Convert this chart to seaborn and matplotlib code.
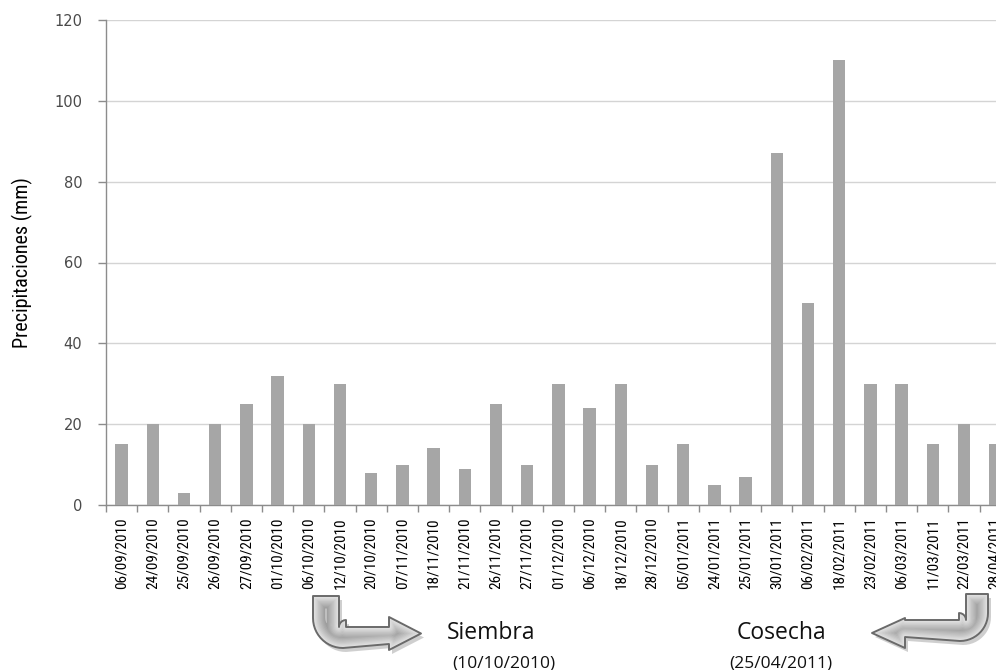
import numpy as np
import pandas as pd
import matplotlib
matplotlib.use("Agg")
import matplotlib.pyplot as plt
import seaborn as sns
from matplotlib.patches import Polygon
from matplotlib import font_manager
from matplotlib.font_manager import FontProperties

# Fechas de lluvia y precipitación registrada (mm)
fechas = ["06/09/2010", "24/09/2010", "25/09/2010", "26/09/2010", "27/09/2010",
          "01/10/2010", "06/10/2010", "12/10/2010", "20/10/2010", "07/11/2010",
          "18/11/2010", "21/11/2010", "26/11/2010", "27/11/2010", "01/12/2010",
          "06/12/2010", "18/12/2010", "28/12/2010", "05/01/2011", "24/01/2011",
          "25/01/2011", "30/01/2011", "06/02/2011", "18/02/2011", "23/02/2011",
          "06/03/2011", "11/03/2011", "22/03/2011", "28/04/2011"]
precipitaciones = [15, 20, 3, 20, 25, 32, 20, 30, 8, 10, 14, 9, 25, 10, 30,
                   24, 30, 10, 15, 5, 7, 87, 50, 110, 30, 30, 15, 20, 15]
yticks = [0, 20, 40, 60, 80, 100, 120]

sns.set_theme(style="white")
plt.rcParams["font.family"] = ["DejaVu Sans"]


def condensed_font():
    """Pick a narrow sans-serif face if one is installed."""
    fl = font_manager.fontManager.ttflist
    prefs = ["Liberation Sans Narrow", "Roboto Condensed", "Open Sans Condensed",
             "Noto Sans Condensed", "DejaVu Sans Condensed"]
    for p in prefs:
        for f in fl:
            if f.name == p and f.weight in (400, "normal", "regular") and f.style == "normal":
                return FontProperties(fname=f.fname)
    for f in fl:
        if f.style == "normal" and str(f.stretch) in ("condensed", "semi-condensed") \
                and f.weight in (400, "normal", "regular"):
            return FontProperties(fname=f.fname)
    for f in fl:
        if ("Condensed" in f.fname or "Narrow" in f.fname) and "Bold" not in f.fname \
                and "Oblique" not in f.fname and "Italic" not in f.fname:
            return FontProperties(fname=f.fname)
    return FontProperties(family="DejaVu Sans")


narrow = condensed_font()
available = {f.name for f in font_manager.fontManager.ttflist}
label_font = "Open Sans" if "Open Sans" in available else "DejaVu Sans"

W, H = 996, 670
fig = plt.figure(figsize=(W / 100, H / 100), dpi=100)
fig.patch.set_facecolor("white")

# Plot area runs a little past the right edge of the figure
x0, y_top, y_bot = 106, 20, 505
cat_w = 31.2
ax = fig.add_axes([x0 / W, 1 - y_bot / H, len(fechas) * cat_w / W, (y_bot - y_top) / H])

df = pd.DataFrame({"fecha": fechas, "mm": precipitaciones})
sns.barplot(data=df, x="fecha", y="mm", order=fechas, color="#A6A6A6",
            saturation=1, width=0.4, ax=ax, zorder=3, linewidth=0)

ax.set_xlim(-0.5, len(fechas) - 0.5)
ax.set_ylim(0, 120)
ax.set_yticks(yticks)
ax.yaxis.grid(True, color="#D4D4D4", linewidth=1.0, zorder=0)
ax.set_axisbelow(True)
for side in ("top", "right"):
    ax.spines[side].set_visible(False)
for side in ("left", "bottom"):
    ax.spines[side].set_color("#8C8C8C")
    ax.spines[side].set_linewidth(1.0)

ax.tick_params(axis="y", direction="out", length=6, width=1, color="#8C8C8C",
               pad=11, labelsize=10.5, labelcolor="#4A4A4A", left=True)
ax.set_xticks(np.arange(len(fechas)))
ax.set_xticklabels(fechas, rotation=90, va="top", ha="center")
for lab in ax.get_xticklabels():
    lab.set_fontproperties(narrow)
    lab.set_fontsize(11)
    lab.set_color("black")
ax.tick_params(axis="x", which="major", length=0, pad=9)
ax.set_xticks(np.arange(len(fechas) + 1) - 0.5, minor=True)
ax.tick_params(axis="x", which="minor", direction="out", length=5, width=1,
               color="#8C8C8C", bottom=True)

ax.set_xlabel("")
ylab = ax.set_ylabel("Precipitaciones (mm)", color="black")
ylab.set_fontproperties(narrow)
ylab.set_fontsize(14.5)
ax.yaxis.set_label_coords(-(x0 - 33) / (len(fechas) * cat_w), 0.5)

# Overlay in pixel coordinates for the bent arrows and their captions
ov = fig.add_axes([0, 0, 1, 1], zorder=10)
ov.set_xlim(0, W)
ov.set_ylim(H, 0)
ov.axis("off")
ov.patch.set_alpha(0)


def bent_arrow(xo, s, w, ytop, yh1, yh2, base, tip, hc, head_half, r):
    """Outline of an arrow going down then turning right (s=1) or left (s=-1)."""
    pts = [(xo, ytop), (xo, yh2 - r)]
    t = np.linspace(0, np.pi / 2, 14)
    pts += [(xo + s * (r - r * np.cos(a)), yh2 - r + r * np.sin(a)) for a in t]
    pts += [(xo + s * base, yh2 - 4), (xo + s * base, hc + head_half),
            (xo + s * tip, hc), (xo + s * base, hc - head_half),
            (xo + s * base, yh1), (xo + s * (w + 7), yh1)]
    t2 = np.linspace(np.pi / 2, np.pi, 6)
    pts += [(xo + s * (w + 7 + 7 * np.cos(a)), yh1 - 7 * np.sin(a)) for a in t2]
    pts += [(xo + s * w, ytop)]
    return np.array(pts)


def draw_arrow(pts):
    shadow = Polygon(pts + np.array([3, 4]), closed=True, facecolor="#C4C4C4",
                     edgecolor="none", alpha=0.8)
    ov.add_patch(shadow)
    body = Polygon(pts, closed=True, facecolor="#E2E2E2", edgecolor="none")
    ov.add_patch(body)
    # shade from darker rims to a light centre
    shades = np.linspace(0.62, 0.89, 10)
    widths = np.linspace(18, 2, 10)
    for g, lw in zip(shades, widths):
        ring = Polygon(pts, closed=True, fill=False, edgecolor=str(g),
                       linewidth=lw, joinstyle="round")
        ring.set_clip_path(body)
        ov.add_patch(ring)
    ov.add_patch(Polygon(pts, closed=True, fill=False, edgecolor="#6A6A6A",
                         linewidth=1.4, joinstyle="round"))


draw_arrow(bent_arrow(313, 1, w=26, ytop=596, yh1=627, yh2=648, base=76,
                      tip=108, hc=633.5, head_half=16.5, r=30))
draw_arrow(bent_arrow(988, -1, w=22, ytop=594, yh1=620, yh2=641, base=83,
                      tip=116, hc=633, head_half=15, r=28))

ov.text(491, 633, "Siembra", fontfamily=label_font, fontsize=16.5,
        color="#111111", ha="center", va="center")
ov.text(504, 663, "(10/10/2010)", fontfamily=label_font, fontsize=12.5,
        color="#111111", ha="center", va="center")
ov.text(781, 633, "Cosecha", fontfamily=label_font, fontsize=16.5,
        color="#111111", ha="center", va="center")
ov.text(781, 663, "(25/04/2011)", fontfamily=label_font, fontsize=12.5,
        color="#111111", ha="center", va="center")

fig.savefig("out.png", dpi=100, facecolor="white")
